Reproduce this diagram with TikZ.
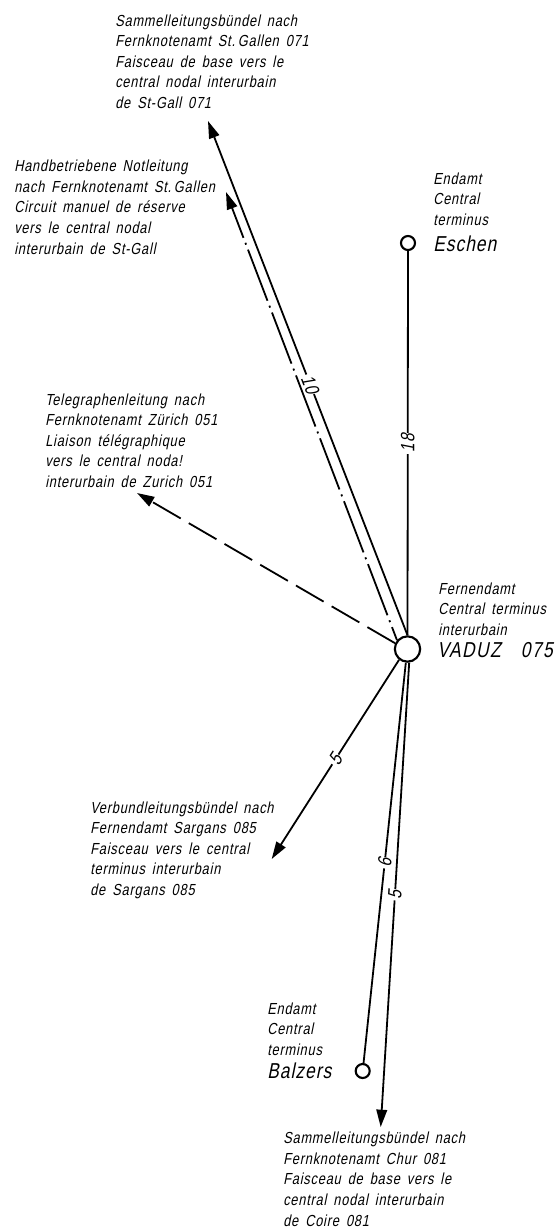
\documentclass[tikz,border=0pt]{standalone}
\usepackage{fontspec}
\usetikzlibrary{arrows.meta}
\setmainfont[FakeSlant=0.2,FakeStretch=0.8,LetterSpace=5,WordSpace=1.6]{Liberation Sans}
\tikzset{
 txt/.style={anchor=north west,align=left,inner sep=0pt,font=\fontsize{12pt}{15.4pt}\selectfont},
 big/.style={anchor=base west,inner sep=0pt,font=\fontsize{16.2pt}{18pt}\selectfont},
 num/.style={fill=white,inner sep=1pt,font=\fontsize{14.5pt}{15pt}\selectfont},
 ln/.style={line width=1.35pt},
 arr/.style={ln,-{Triangle[length=13pt,width=8pt]}},
 stn/.style={circle,draw,line width=1.6pt,inner sep=0pt,fill=white},
}
\begin{document}
\begin{tikzpicture}[x=0.75pt,y=-0.75pt]
\useasboundingbox (0,0) rectangle (558,1229);
\node[stn,minimum size=19pt] (vaduz) at (407.5,649) {};
\node[stn,minimum size=10.5pt] (eschen) at (408,243) {};
\node[stn,minimum size=10.5pt] (balzers) at (362.7,1071) {};
\coordinate (t1) at (208,121);
\coordinate (t2) at (226,192);
\coordinate (t3) at (137,493);
\coordinate (t4) at (271.7,859);
\coordinate (t5) at (380.7,1127);
\draw[ln] (eschen) -- node[num,pos=.5,rotate=90] (n18) {18} (vaduz);
\draw[arr,dash pattern=on 41pt off 4pt on 1.5pt off 4pt,dash phase=30.5pt] (vaduz.140) -- (t2);
\draw[arr] (vaduz.north) -- node[num,pos=.488,rotate=-69] (n10) {10} (t1);
\draw[arr,dash pattern=on 24pt off 7pt] (vaduz.155) -- (t3);
\draw[arr] (vaduz.232) -- node[num,pos=.5,rotate=57] (n5a) {5} (t4);
\draw[ln] (vaduz.263) -- node[num,pos=.5,rotate=84] (n6) {6} (balzers);
\draw[arr] (vaduz.277) -- node[num,pos=.5,rotate=86] (n5b) {5} (t5);
\node[txt] (a) at (115,14.5) {Sammelleitungsbündel nach\\Fernknotenamt St.\,Gallen 071\\Faisceau de base vers le\\central nodal interurbain\\de St-Gall 071};
\node[txt] (b) at (14,160) {Handbetriebene Notleitung\\nach Fernknotenamt St.\,Gallen\\Circuit manuel de réserve\\vers le central nodal\\interurbain de St-Gall};
\node[txt] (c) at (45,393.5) {Telegraphenleitung nach\\Fernknotenamt Zürich 051\\Liaison télégraphique\\vers le central noda!\\interurbain de Zurich 051};
\node[txt] (d) at (433,172.5) {Endamt\\Central\\terminus};
\node[big] (e) at (433,251) {Eschen};
\node[txt] (f) at (438,582.5) {Fernendamt\\Central terminus\\interurbain};
\node[big] (g) at (437,657) {\addfontfeature{LetterSpace=7}VADUZ\ \ 075};
\node[txt] (h) at (90,801.5) {Verbundleitungsbündel nach\\Fernendamt Sargans 085\\Faisceau vers le central\\terminus interurbain\\de Sargans 085};
\node[txt] (i) at (267,1002.5) {Endamt\\Central\\terminus};
\node[big] (j) at (267,1078) {Balzers};
\node[txt] (k) at (283,1132) {Sammelleitungsbündel nach\\Fernknotenamt Chur 081\\Faisceau de base vers le\\central nodal interurbain\\de Coire 081};
\end{tikzpicture}
\end{document}
